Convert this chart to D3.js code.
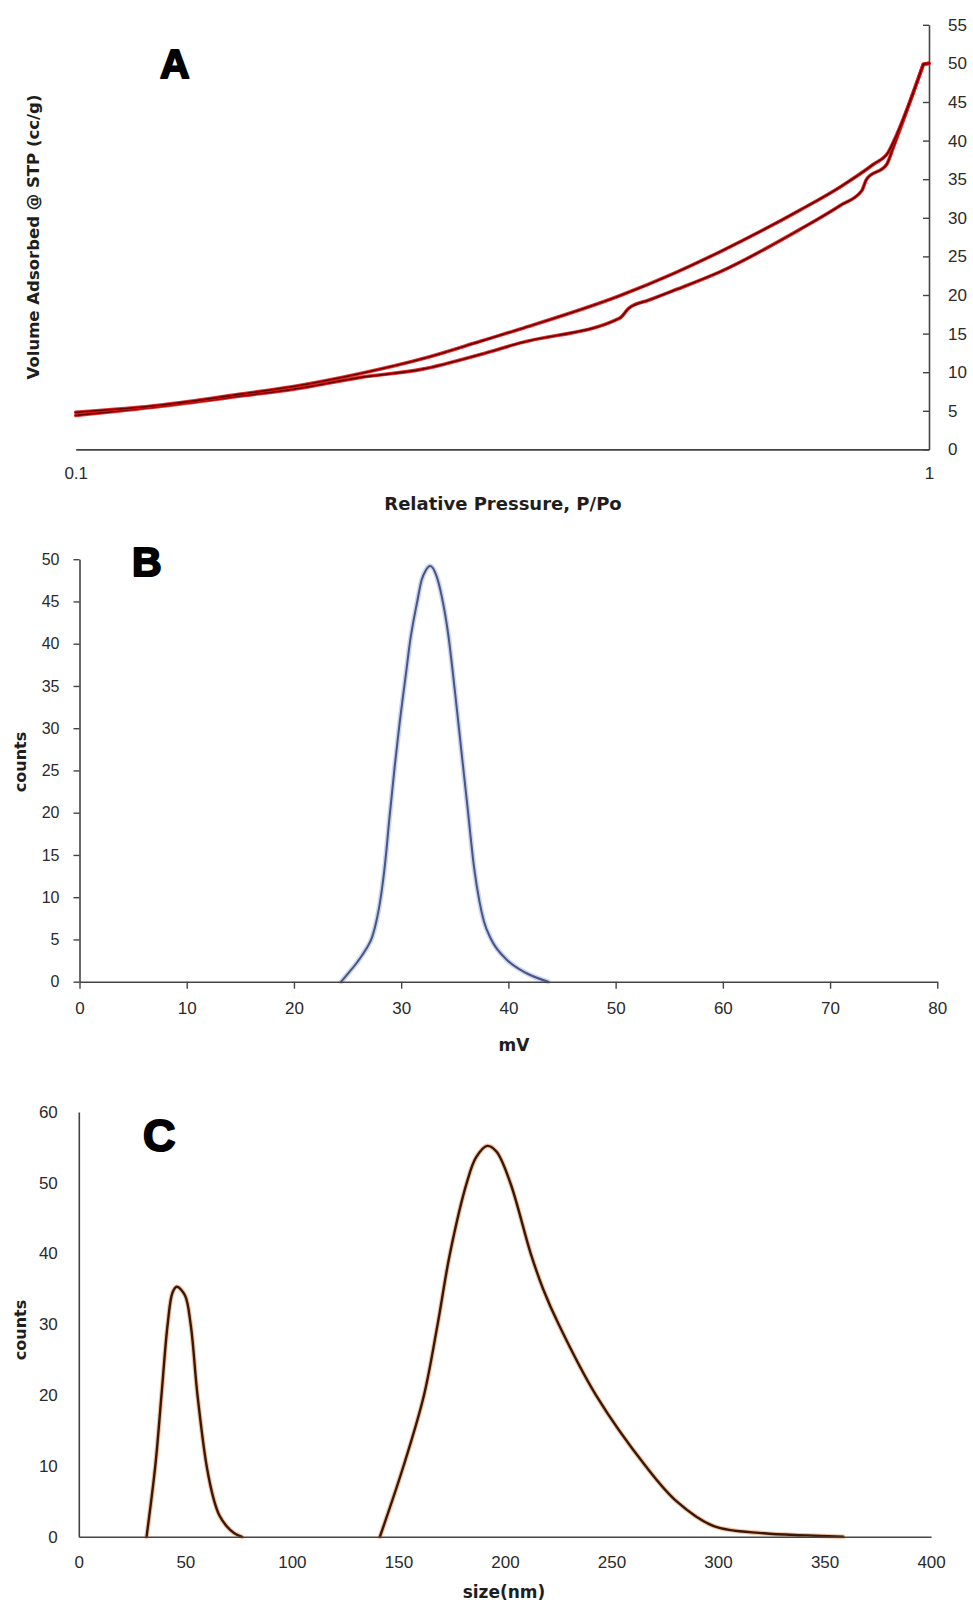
<!DOCTYPE html>
<html>
<head>
<meta charset="utf-8">
<script src="https://cdn.jsdelivr.net/npm/d3@7"></script>
<style>
  html, body { margin: 0; padding: 0; background: #ffffff; }
  svg { display: block; }
  .tick text { font-family: "Liberation Sans", Arial, sans-serif; fill: #2a2a2a; }
  .title { font-family: "DejaVu Sans", "Liberation Sans", sans-serif; font-weight: bold; fill: #1e1e1e; }
  .panel-letter { font-family: "Liberation Sans", Arial, sans-serif; font-weight: bold; fill: #000; stroke: #000; stroke-width: 2; stroke-linejoin: round; }
</style>
</head>
<body>
<script>
// ---- Panel A: N2 adsorption / desorption isotherm ----
const adsP = [0.100, 0.126, 0.157, 0.180, 0.215, 0.255, 0.298, 0.332, 0.434, 0.445, 0.470, 0.500, 0.569, 0.706, 0.787, 0.834, 0.845, 0.892, 0.908, 0.985, 1.000];
const adsV = [4.4, 5.6, 6.95, 7.8, 9.3, 10.4, 12.3, 13.8, 17.0, 18.3, 19.35, 20.5, 23.0, 28.5, 31.6, 33.5, 35.0, 36.9, 39.1, 49.9, 50.0];
const desP = [0.100, 0.126, 0.157, 0.180, 0.215, 0.258, 0.298, 0.332, 0.434, 0.500, 0.569, 0.706, 0.787, 0.860, 0.896, 0.910, 0.985, 1.000];
const desV = [4.8, 5.75, 7.2, 8.15, 9.8, 11.9, 14.0, 15.6, 19.9, 22.7, 25.6, 31.0, 34.0, 36.9, 38.5, 40.0, 49.9, 50.0];
const pressureTicks = [0.1, 1];
const volumeTicks = [0, 5, 10, 15, 20, 25, 30, 35, 40, 45, 50, 55];

// ---- Panel B: zeta potential distribution ----
const zetaMV = [24.4, 25.0, 25.9, 26.7, 27.3, 27.75, 28.1, 28.5, 28.9, 29.4, 29.8, 30.5, 30.8, 31.5, 31.9, 32.3, 32.7, 33.3, 33.8, 34.4, 35.0, 35.6, 36.2, 36.8, 37.3, 37.7, 38.4, 39.85, 41.7, 43.7];
const zetaCounts = [0, 0.9, 2.3, 3.8, 5.3, 7.5, 10, 14.0, 19.3, 25.5, 30, 37, 40, 45, 47.5, 48.7, 49.2, 48.0, 45.5, 41, 34.5, 27.5, 20.5, 13.5, 9.5, 7.2, 5.0, 2.6, 1.0, 0];
const mvTicks = [0, 10, 20, 30, 40, 50, 60, 70, 80];
const zetaCountTicks = [0, 5, 10, 15, 20, 25, 30, 35, 40, 45, 50];

// ---- Panel C: particle size distribution (two populations) ----
const sizeSmallNm = [31.8, 35.9, 38.8, 41.7, 44.0, 46.0, 49.8, 52.5, 55.7, 60.0, 63.6, 66.0, 69.4, 73.0, 76.6];
const sizeSmallCounts = [0, 10, 20, 30, 34.5, 35.3, 34.1, 30, 20, 10, 5, 3, 1.5, 0.5, 0];
const sizeLargeNm = [141.3, 152.4, 162.0, 168.4, 174.2, 182.1, 186.5, 191.7, 196.0, 202.5, 212.1, 217.9, 225.2, 242.7, 266.0, 280.6, 298.0, 321.4, 341.8, 358.7];
const sizeLargeCounts = [0, 10, 20, 30, 40, 50, 53.6, 55.2, 54.4, 50, 40, 35, 30, 20, 10, 5, 1.5, 0.5, 0.2, 0];
const sizeTicks = [0, 50, 100, 150, 200, 250, 300, 350, 400];
const sizeCountTicks = [0, 10, 20, 30, 40, 50, 60];

const W = 973, H = 1603;
const svg = d3.select("body").append("svg").attr("width", W).attr("height", H);

const zip = (xs, ys) => xs.map((x, i) => [x, ys[i]]);

function styleAxis(g, fontSize) {
  g.selectAll(".domain").attr("stroke", "#444").attr("stroke-width", 1.6);
  g.selectAll(".tick line").attr("stroke", "#444").attr("stroke-width", 1.4);
  g.selectAll(".tick text").attr("font-size", fontSize + "px");
}

// Draws a path twice: a soft wide halo under a darker core stroke
function haloPath(g, d, halo, haloW, haloOp, core, coreW) {
  g.append("path").attr("d", d)
    .attr("fill", "none").attr("stroke", halo).attr("stroke-width", haloW)
    .attr("stroke-opacity", haloOp).attr("stroke-linejoin", "round").attr("stroke-linecap", "round");
  g.append("path").attr("d", d)
    .attr("fill", "none").attr("stroke", core).attr("stroke-width", coreW)
    .attr("stroke-linejoin", "round").attr("stroke-linecap", "round");
}

function rotatedTitle(text, cx, cy, size) {
  svg.append("text").attr("class", "title").attr("font-size", size + "px")
    .attr("text-anchor", "middle")
    .attr("transform", `translate(${cx},${cy}) rotate(-90)`)
    .attr("dy", "0.35em").text(text);
}

// ================= Panel A =================
{
  const x = d3.scaleLog().domain([0.1, 1]).range([75.7, 929]);
  const y = d3.scaleLinear().domain([0, 55]).range([449.4, 24.8]);
  const g = svg.append("g");

  const yAxis = g.append("g").attr("transform", `translate(${x(1)},0)`)
    .call(d3.axisRight(y).tickValues(volumeTicks).tickSizeInner(-6).tickSizeOuter(0).tickPadding(19).tickFormat(d3.format("d")));
  styleAxis(yAxis, 17);

  const xAxis = g.append("g").attr("transform", `translate(0,${y(0)})`)
    .call(d3.axisBottom(x).tickValues(pressureTicks).tickSize(0).tickPadding(18).tickFormat(d => d === 1 ? "1" : "0.1"));
  styleAxis(xAxis, 17);

  // smooth branch up to the saturation point, then a straight plateau to P/Po = 1
  const smooth = d3.line().x(d => x(d[0])).y(d => y(d[1])).curve(d3.curveMonotoneX);
  const straight = d3.line().x(d => x(d[0])).y(d => y(d[1]));
  [zip(adsP, adsV), zip(desP, desV)].forEach(pts => {
    const n = pts.length;
    const d = smooth(pts.slice(0, n - 1)) + straight(pts.slice(n - 2)).replace(/^M[^L]*/, "");
    haloPath(g, d, "#e01414", 3.6, 0.9, "#6a0000", 1.7);
  });

  svg.append("text").attr("class", "title").attr("font-size", "18px")
    .attr("text-anchor", "middle").attr("x", 503).attr("y", 510).text("Relative Pressure, P/Po");
  rotatedTitle("Volume Adsorbed @ STP (cc/g)", 33, 237, 16.5);
  svg.append("text").attr("class", "panel-letter").attr("font-size", "41px")
    .attr("x", 160).attr("y", 78).text("A");
}

// ================= Panel B =================
{
  const x = d3.scaleLinear().domain([0, 80]).range([79.5, 937.3]);
  const y = d3.scaleLinear().domain([0, 50]).range([981.7, 559.2]);
  const g = svg.append("g");

  const line = d3.line().x(d => x(d[0])).y(d => y(d[1])).curve(d3.curveMonotoneX);
  haloPath(g, line(zip(zetaMV, zetaCounts)), "#9fb3ea", 5, 0.55, "#4b5680", 2);

  const yAxis = g.append("g").attr("transform", `translate(${x(0)},0)`)
    .call(d3.axisLeft(y).tickValues(zetaCountTicks).tickSizeInner(6).tickSizeOuter(0).tickPadding(14));
  styleAxis(yAxis, 16);

  const xAxis = g.append("g").attr("transform", `translate(0,${y(0)})`)
    .call(d3.axisBottom(x).tickValues(mvTicks).tickSizeInner(7).tickSizeOuter(0).tickPadding(13));
  styleAxis(xAxis, 17);

  svg.append("text").attr("class", "title").attr("font-size", "17px")
    .attr("text-anchor", "middle").attr("x", 514).attr("y", 1051).text("mV");
  rotatedTitle("counts", 20, 762, 16);
  svg.append("text").attr("class", "panel-letter").attr("font-size", "41px")
    .attr("x", 132).attr("y", 576).text("B");
}

// ================= Panel C =================
{
  const x = d3.scaleLinear().domain([0, 400]).range([78.8, 931.1]);
  const y = d3.scaleLinear().domain([0, 60]).range([1536.8, 1111.9]);
  const g = svg.append("g");

  const line = d3.line().x(d => x(d[0])).y(d => y(d[1])).curve(d3.curveCatmullRom.alpha(0.5));
  haloPath(g, line(zip(sizeSmallNm, sizeSmallCounts)), "#e99a66", 4.6, 0.6, "#3a1808", 2.4);
  haloPath(g, line(zip(sizeLargeNm, sizeLargeCounts)), "#e99a66", 4.6, 0.6, "#3a1808", 2.4);

  const yAxis = g.append("g").attr("transform", `translate(${x(0)},0)`)
    .call(d3.axisLeft(y).tickValues(sizeCountTicks).tickSize(0).tickPadding(21));
  styleAxis(yAxis, 17);

  const xAxis = g.append("g").attr("transform", `translate(0,${y(0)})`)
    .call(d3.axisBottom(x).tickValues(sizeTicks).tickSize(0).tickPadding(19));
  styleAxis(xAxis, 17);

  svg.append("text").attr("class", "title").attr("font-size", "17px")
    .attr("text-anchor", "middle").attr("x", 504).attr("y", 1598).text("size(nm)");
  rotatedTitle("counts", 20, 1330, 16);
  svg.append("text").attr("class", "panel-letter").attr("font-size", "45px")
    .attr("x", 143).attr("y", 1151).text("C");
}
</script>
</body>
</html>
